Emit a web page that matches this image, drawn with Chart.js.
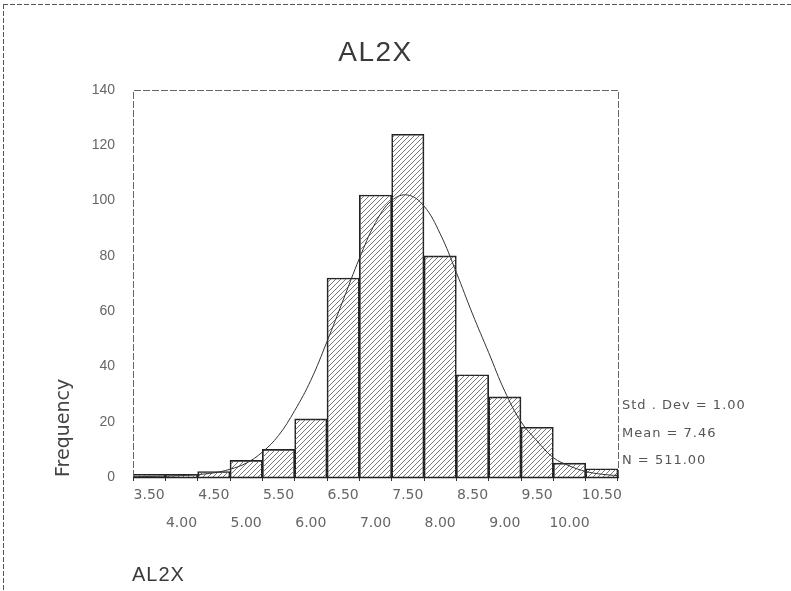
<!DOCTYPE html>
<html>
<head>
<meta charset="utf-8">
<title>AL2X</title>
<script src="https://cdn.jsdelivr.net/npm/chart.js@4.4.1/dist/chart.umd.min.js"></script>
<style>
  html, body { margin: 0; padding: 0; background: #fff; }
  #wrap { width: 791px; height: 591px; }
</style>
</head>
<body>
<div id="wrap"><canvas id="histo" width="791" height="591"></canvas></div>
<script>
// AL2X histogram, bin width 0.50
const binCenters = [3.5, 4.0, 4.5, 5.0, 5.5, 6.0, 6.5, 7.0, 7.5, 8.0, 8.5, 9.0, 9.5, 10.0, 10.5];
const frequencies = [1, 1, 2, 6, 10, 21, 72, 102, 124, 80, 37, 29, 18, 5, 3];
const xTickValues = [3.5, 4.0, 4.5, 5.0, 5.5, 6.0, 6.5, 7.0, 7.5, 8.0, 8.5, 9.0, 9.5, 10.0, 10.5];
const xLabelText = ['3.50', '4.00', '4.50', '5.00', '5.50', '6.00', '6.50', '7.00', '7.50',
                    '8.00', '8.50', '9.00', '9.50', '10.00', '10.50'];

// normal curve overlay
const curveX = [3.25, 3.5, 3.75, 4.0, 4.25, 4.5, 4.75, 5.0, 5.25, 5.5, 5.75, 6.0, 6.25, 6.5, 6.75, 7.0,
                7.25, 7.5, 7.75, 8.0, 8.25, 8.5, 8.75, 9.0, 9.25, 9.5, 9.75, 10.0, 10.25, 10.5, 10.75];
const curveY = [0.1, 0.2, 0.3, 0.5, 0.9, 1.5, 2.8, 5, 9, 15, 24, 35, 49, 64, 79, 92,
                100, 102, 98, 88, 74, 59, 45, 31, 20, 13, 7, 4, 2, 1, 0.5];

const statLines = ['Std . Dev = 1.00', 'Mean = 7.46', 'N = 511.00'];

const canvas = document.getElementById('histo');
const ctx = canvas.getContext('2d');

function hatchPattern() {
  const c = document.createElement('canvas');
  c.width = 5; c.height = 5;
  const g = c.getContext('2d');
  g.strokeStyle = '#6a6a6a';
  g.lineWidth = 0.9;
  g.beginPath();
  g.moveTo(0, 5); g.lineTo(5, 0);
  g.moveTo(-1, 1); g.lineTo(1, -1);
  g.moveTo(4, 6); g.lineTo(6, 4);
  g.stroke();
  return ctx.createPattern(c, 'repeat');
}

// frame, outer border and free text
const decorations = {
  id: 'decorations',
  beforeDraw(chart) {
    const c = chart.ctx;
    c.save();
    c.strokeStyle = '#555';
    c.lineWidth = 1;
    c.setLineDash([5, 2]);
    c.beginPath();
    c.moveTo(3, 4.5); c.lineTo(791, 4.5);
    c.moveTo(3.5, 4); c.lineTo(3.5, 591);
    c.stroke();
    c.restore();
  },
  afterDraw(chart) {
    const c = chart.ctx;
    const a = chart.chartArea;
    c.save();
    c.strokeStyle = '#666';
    c.lineWidth = 1;
    c.setLineDash([7, 2]);
    c.beginPath();
    c.moveTo(a.left + 0.5, a.bottom);
    c.lineTo(a.left + 0.5, a.top + 0.5);
    c.lineTo(a.right + 0.5, a.top + 0.5);
    c.lineTo(a.right + 0.5, a.bottom);
    c.stroke();
    c.setLineDash([]);
    c.strokeStyle = '#222';
    c.lineWidth = 1.5;
    c.beginPath();
    c.moveTo(a.left, a.bottom + 0.5);
    c.lineTo(a.right + 1, a.bottom + 0.5);
    c.stroke();

    c.fillStyle = '#3a3a3a';
    c.textBaseline = 'middle';
    c.textAlign = 'center';
    c.letterSpacing = '1.5px';
    c.font = '28px "Liberation Sans", Arial, sans-serif';
    c.fillText('AL2X', (a.left + a.right) / 2, 53);

    c.textAlign = 'left';
    c.letterSpacing = '1px';
    c.font = '20px "Liberation Sans", Arial, sans-serif';
    c.fillText('AL2X', 132, 575);

    c.fillStyle = '#555';
    c.font = '13px "DejaVu Sans", sans-serif';
    statLines.forEach((t, i) => c.fillText(t, a.right + 4, 406 + i * 27.5));
    c.letterSpacing = '0px';
    c.restore();
  }
};

new Chart(ctx, {
  data: {
    datasets: [{
      type: 'line',
      data: curveX.map((x, i) => ({ x: x, y: curveY[i] })),
      borderColor: '#333',
      borderWidth: 1,
      pointRadius: 0,
      tension: 0.4,
      fill: false,
      order: 0
    }, {
      type: 'bar',
      data: binCenters.map((x, i) => ({ x: x, y: frequencies[i] })),
      backgroundColor: hatchPattern(),
      borderColor: '#222',
      borderWidth: 1,
      barPercentage: 1,
      categoryPercentage: 1,
      grouped: false,
      order: 1
    }]
  },
  options: {
    responsive: false,
    animation: false,
    layout: { padding: { left: 0, top: 90, right: 173, bottom: 0 } },
    plugins: {
      legend: { display: false },
      tooltip: { enabled: false }
    },
    scales: {
      x: {
        type: 'linear',
        min: 3.25,
        max: 10.75,
        offset: false,
        afterFit(scale) { scale.height = 114; },
        afterBuildTicks(scale) { scale.ticks = xTickValues.map(v => ({ value: v })); },
        grid: { display: true, drawOnChartArea: false, drawTicks: true, tickLength: 4, color: '#333' },
        border: { display: false },
        ticks: {
          autoSkip: false,
          maxRotation: 0,
          padding: 0,
          color: '#666',
          font: { family: '"DejaVu Sans", sans-serif', size: 14, lineHeight: 2 },
          callback: (v, i) => (i % 2 === 0 ? [xLabelText[i]] : ['', xLabelText[i]])
        }
      },
      y: {
        min: 0,
        max: 140,
        afterFit(scale) { scale.width = 133; },
        grid: { display: false, drawTicks: false },
        border: { display: false },
        ticks: {
          stepSize: 20,
          padding: 18,
          color: '#666',
          font: { family: '"Liberation Sans Narrow", "Liberation Sans", Arial, sans-serif', size: 14 }
        },
        title: {
          display: true,
          text: 'Frequency',
          align: 'start',
          color: '#444',
          padding: { top: 53, bottom: 0 },
          font: { family: '"DejaVu Sans", sans-serif', size: 19 }
        }
      }
    }
  },
  plugins: [decorations]
});
</script>
</body>
</html>
